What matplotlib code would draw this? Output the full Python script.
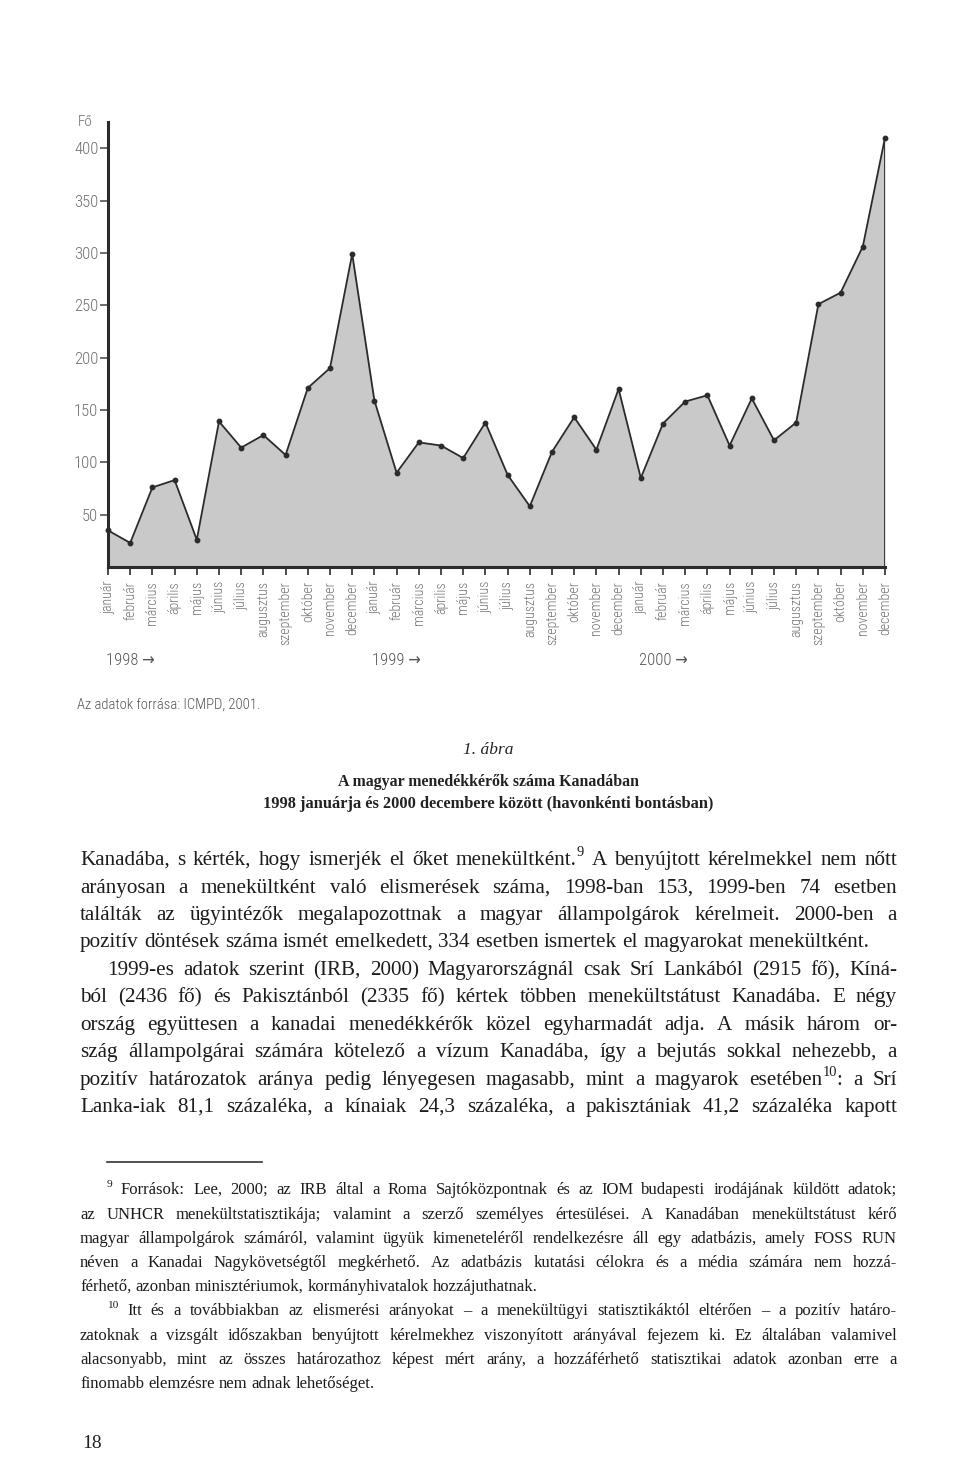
import re
import matplotlib
matplotlib.use('Agg')
import matplotlib.pyplot as plt
from matplotlib import font_manager

# monthly number of Hungarian asylum seekers in Canada
months = ['január', 'február', 'március', 'április', 'május', 'június',
          'július', 'augusztus', 'szeptember', 'október', 'november', 'december']
years = ['1998', '1999', '2000']
persons_1998 = [35, 23, 76, 83, 26, 139, 114, 126, 107, 171, 190, 299]
persons_1999 = [159, 90, 119, 116, 104, 138, 88, 58, 110, 143, 112, 170]
persons_2000 = [85, 137, 158, 164, 116, 161, 121, 138, 251, 262, 306, 410]
y_ticks = [50, 100, 150, 200, 250, 300, 350, 400]

values = persons_1998 + persons_1999 + persons_2000
labels = months * len(years)
xs = list(range(len(values)))

W, H = 960, 1460
fig = plt.figure(figsize=(W / 100, H / 100), dpi=100)
fig.patch.set_facecolor('white')
renderer = fig.canvas.get_renderer()

# pick a narrow sans for the chart lettering
available = {f.name for f in font_manager.fontManager.ttflist}
narrow = 'DejaVu Sans'
for name in ['Roboto Condensed', 'Liberation Sans Narrow', 'Open Sans Condensed']:
    if name in available:
        narrow = name
        break
chart_font = dict(family=[narrow, 'DejaVu Sans'], stretch='condensed', weight='light')
serif = 'Liberation Serif'

###
#   the chart
###
ax = fig.add_axes([108 / W, 1 - 567 / H, (885 - 108) / W, (567 - 122) / H])
ax.fill_between(xs, values, 0, color='#c9c9c9', lw=0)
ax.plot(xs, values, color='#2b2b2b', lw=1.3, marker='o', ms=3.2, clip_on=False, zorder=3)
ax.vlines(xs[-1], 0, values[-1], color='#2b2b2b', lw=1.3, zorder=3)
ax.set_xlim(0, len(values) - 1)
ax.set_ylim(0, 425)
ax.set_facecolor('none')
for s in ['top', 'right']:
    ax.spines[s].set_visible(False)
for s in ['left', 'bottom']:
    ax.spines[s].set_linewidth(2.2)
    ax.spines[s].set_color('#2b2b2b')
ax.set_yticks(y_ticks)
ax.set_yticklabels([str(v) for v in y_ticks], color='#6e6e6e', fontsize=12, **chart_font)
ax.set_xticks(xs)
ax.set_xticklabels(labels, rotation=90, color='#727272', fontsize=10, **chart_font)
ax.tick_params(axis='y', direction='out', length=6, width=1.2, pad=1, color='#555555')
ax.tick_params(axis='x', direction='out', length=6, width=1.2, pad=4, color='#2b2b2b')

ax.text(-0.02, 1.0, 'Fő', transform=ax.transAxes, ha='right', va='center',
        color='#6e6e6e', fontsize=11, **chart_font)
for i, yr in enumerate(years):
    ax.text(i * 12 - 0.1, -0.209, yr + ' →', transform=ax.get_xaxis_transform(),
            ha='left', va='center', color='#555555', fontsize=12, **chart_font)

fig.text(77 / W, 1 - 705 / H, 'Az adatok forrása: ICMPD, 2001.', ha='left', va='center',
         color='#555555', fontsize=10.5, **chart_font)

###
#   caption
###
fig.text(488 / W, 1 - 750 / H, '1. ábra', ha='center', va='center', family=serif,
         style='italic', fontsize=12.5, color='#222222')
fig.text(488 / W, 1 - 782 / H, 'A magyar menedékkérők száma Kanadában', ha='center',
         va='center', family=serif, weight='bold', fontsize=11.4, color='#222222')
fig.text(488 / W, 1 - 804 / H, '1998 januárja és 2000 decembere között (havonkénti bontásban)',
         ha='center', va='center', family=serif, weight='bold', fontsize=11.8, color='#222222')


###
#   justified running text
###
def put(x, y, s, size):
    return fig.text(x / W, 1 - y / H, s, fontsize=size, family=serif, color='#1c1c1c',
                    ha='left', va='baseline')


def text_line(x0, x1, y, line, size, justify=True):
    em = size * 100 / 72
    words = []
    for w in line.split(' '):
        items = []
        for p in re.split(r'(\^\{[^}]*\})', w):
            if not p:
                continue
            if p.startswith('^{'):
                items.append(put(0, y - 0.42 * em, p[2:-1], size * 0.68))
            else:
                items.append(put(0, y, p, size))
        words.append(items)
    widths = [sum(t.get_window_extent(renderer).width for t in items) for items in words]
    gap = 0.25 * em
    if justify and len(words) > 1:
        gap = (x1 - x0 - sum(widths)) / (len(words) - 1)
    x = x0
    for items in words:
        for t in items:
            t.set_x(x / W)
            x += t.get_window_extent(renderer).width
        x += gap


body = [
    (80, 865, 'Kanadába, s kérték, hogy ismerjék el őket menekültként.^{9} A benyújtott kérelmekkel nem nőtt', True),
    (80, 893, 'arányosan a menekültként való elismerések száma, 1998-ban 153, 1999-ben 74 esetben', True),
    (80, 920, 'találták az ügyintézők megalapozottnak a magyar állampolgárok kérelmeit. 2000-ben a', True),
    (80, 947, 'pozitív döntések száma ismét emelkedett, 334 esetben ismertek el magyarokat menekültként.', False),
    (107, 975, '1999-es adatok szerint (IRB, 2000) Magyarországnál csak Srí Lankából (2915 fő), Kíná-', True),
    (80, 1002, 'ból (2436 fő) és Pakisztánból (2335 fő) kértek többen menekültstátust Kanadába. E négy', True),
    (80, 1030, 'ország együttesen a kanadai menedékkérők közel egyharmadát adja. A másik három or-', True),
    (80, 1057, 'szág állampolgárai számára kötelező a vízum Kanadába, így a bejutás sokkal nehezebb, a', True),
    (80, 1085, 'pozitív határozatok aránya pedig lényegesen magasabb, mint a magyarok esetében^{10}: a Srí', True),
    (80, 1112, 'Lanka-iak 81,1 százaléka, a kínaiak 24,3 százaléka, a pakisztániak 41,2 százaléka kapott', True),
]
for x0, y, line, just in body:
    text_line(x0, 897, y, line, 15.2, just)

fig.add_artist(plt.Line2D([107 / W, 262 / W], [1 - 1162 / H, 1 - 1162 / H], color='#333333', lw=1.2))

notes = [
    (107, 1194, '^{9} Források: Lee, 2000; az IRB által a Roma Sajtóközpontnak és az IOM budapesti irodájának küldött adatok;', True),
    (80, 1219, 'az UNHCR menekültstatisztikája; valamint a szerző személyes értesülései. A Kanadában menekültstátust kérő', True),
    (80, 1243, 'magyar állampolgárok számáról, valamint ügyük kimeneteléről rendelkezésre áll egy adatbázis, amely FOSS RUN', True),
    (80, 1267, 'néven a Kanadai Nagykövetségtől megkérhető. Az adatbázis kutatási célokra és a média számára nem hozzá-', True),
    (80, 1291, 'férhető, azonban minisztériumok, kormányhivatalok hozzájuthatnak.', False),
    (107, 1315, '^{10} Itt és a továbbiakban az elismerési arányokat – a menekültügyi statisztikáktól eltérően – a pozitív határo-', True),
    (80, 1340, 'zatoknak a vizsgált időszakban benyújtott kérelmekhez viszonyított arányával fejezem ki. Ez általában valamivel', True),
    (80, 1364, 'alacsonyabb, mint az összes határozathoz képest mért arány, a hozzáférhető statisztikai adatok azonban erre a', True),
    (80, 1388, 'finomabb elemzésre nem adnak lehetőséget.', False),
]
for x0, y, line, just in notes:
    text_line(x0, 897, y, line, 12.0, just)

fig.text(92 / W, 1 - 1443 / H, '18', ha='center', va='center', family=serif,
         fontsize=14, color='#222222')

fig.savefig('out.png', dpi=100, facecolor='white')
